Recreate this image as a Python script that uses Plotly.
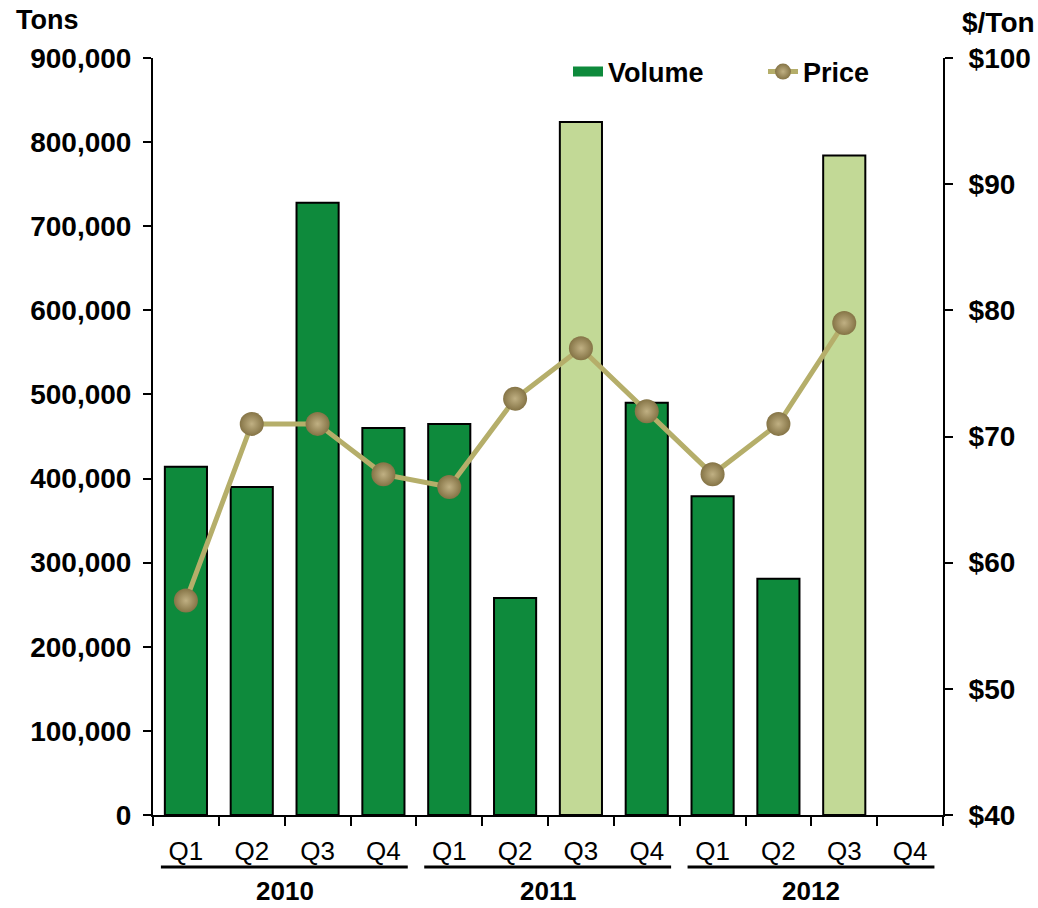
import plotly.graph_objects as go

quarters = ["Q1", "Q2", "Q3", "Q4", "Q1", "Q2", "Q3", "Q4", "Q1", "Q2", "Q3", "Q4"]
years = ["2010", "2011", "2012"]
volume = [414000, 390000, 728000, 460000, 465000, 258000, 824000, 490000, 379000, 281000, 784000, None]
price = [57, 71, 71, 67, 66, 73, 77, 72, 67, 71, 79, None]
left_ticks = [0, 100000, 200000, 300000, 400000, 500000, 600000, 700000, 800000, 900000]
right_ticks = [40, 50, 60, 70, 80, 90, 100]
right_labels = ["$40", "$50", "$60", "$70", "$80", "$90", "$100"]

DARK = "#0E8A3C"
LIGHT = "#C2D996"
bar_colors = [DARK, DARK, DARK, DARK, DARK, DARK, LIGHT, DARK, DARK, DARK, LIGHT, DARK]

xpos = list(range(len(quarters)))
FONT = "Liberation Sans, Arial, sans-serif"

fig = go.Figure()
fig.add_trace(go.Bar(
    x=xpos, y=volume, name="Volume", width=0.64, showlegend=False,
    marker=dict(color=bar_colors, line=dict(color="black", width=2)),
    yaxis="y",
))
# legend entry for Volume drawn as wide swatch
fig.add_trace(go.Scatter(
    x=[None], y=[None], name="Volume", mode="lines",
    line=dict(color=DARK, width=17), yaxis="y",
))
fig.add_trace(go.Scatter(
    x=xpos, y=price, name="Price", mode="lines+markers", yaxis="y2",
    line=dict(color="#B5AE6A", width=5),
    marker=dict(size=24, color="#857446",
                gradient=dict(type="radial", color="#C0B083"),
                line=dict(width=0)),
))

fig.update_layout(
    width=1038, height=908,
    margin=dict(l=153, r=95, t=58, b=93, autoexpand=False),
    paper_bgcolor="white", plot_bgcolor="white",
    xaxis=dict(
        range=[-0.5, 11.5], tickvals=xpos, ticktext=quarters,
        ticks="", showgrid=False, zeroline=False, automargin=False,
        showline=True, linecolor="black", linewidth=2,
        tickfont=dict(family=FONT, size=26, color="black"),
        ticklabelstandoff=12,
        minor=dict(tick0=-0.5, dtick=1, ticks="outside", ticklen=9, tickcolor="black", tickwidth=2),
    ),
    yaxis=dict(
        range=[0, 900000], tickvals=left_ticks, tickformat=",",
        ticks="outside", ticklen=8, tickwidth=2, tickcolor="black",
        showline=True, linecolor="black", linewidth=2, automargin=False,
        showgrid=False, zeroline=False, ticklabelstandoff=6,
        tickfont=dict(family=FONT, size=28, color="black", weight="bold"),
    ),
    yaxis2=dict(
        range=[40, 100], tickvals=right_ticks, ticktext=right_labels,
        overlaying="y", side="right", automargin=False,
        ticks="outside", ticklen=8, tickwidth=2, tickcolor="black",
        showline=True, linecolor="black", linewidth=2,
        showgrid=False, zeroline=False, ticklabelstandoff=10,
        tickfont=dict(family=FONT, size=28, color="black", weight="bold"),
    ),
    legend=dict(
        orientation="h", x=(568 - 153) / 790, y=(815 - 72) / 757, xanchor="left", yanchor="middle",
        font=dict(family=FONT, size=27, color="black", weight="bold"),
        bgcolor="rgba(0,0,0,0)", entrywidth=150, entrywidthmode="pixels",
    ),
    showlegend=True,
)

fig.add_annotation(text="<b>Tons</b>", xref="paper", yref="paper",
                   x=(14 - 153) / 790, y=1.0 + (58 - 20) / 757, xanchor="left", yanchor="middle",
                   showarrow=False, font=dict(family=FONT, size=27, color="black"))
fig.add_annotation(text="<b>$/Ton</b>", xref="paper", yref="paper",
                   x=(1037 - 153) / 790, y=1.0 + (58 - 22) / 757, xanchor="right", yanchor="middle",
                   showarrow=False, font=dict(family=FONT, size=28, color="black"))

for i, yr in enumerate(years):
    start = i * 4
    fig.add_shape(type="line", xref="x", yref="paper",
                  x0=start - 0.38, x1=start + 3.37,
                  y0=-(867 - 815) / 757, y1=-(867 - 815) / 757,
                  line=dict(color="black", width=3))
    fig.add_annotation(text="<b>" + yr + "</b>", xref="x", yref="paper",
                       x=start + 1.5, y=-(891 - 815) / 757, yanchor="middle",
                       showarrow=False, font=dict(family=FONT, size=26, color="black"))

fig.write_html("out.html")
